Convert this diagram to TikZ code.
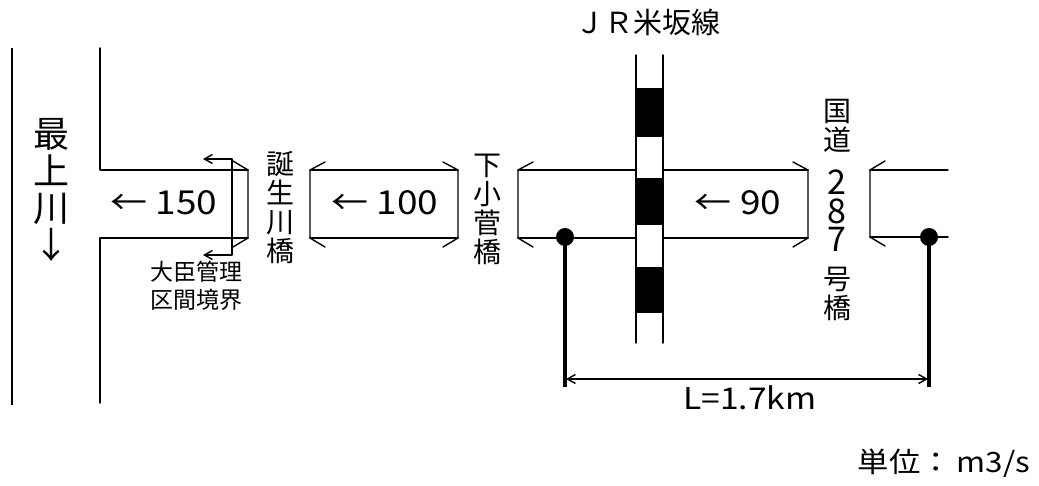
\documentclass[tikz,border=0pt]{standalone}
\usepackage{fontspec}
\setmainfont{Noto Sans CJK JP}
\newfontfamily\widefont[FakeStretch=1.12]{Noto Sans CJK JP}
\usetikzlibrary{arrows.meta}
\begin{document}
\begin{tikzpicture}[x=1pt,y=-1pt,
  >={Straight Barb[length=8pt,width=9pt]},
  ln/.style={line width=1.4pt, line cap=round, line join=round},
  lbl/.style={inner sep=0pt, align=center},
  big/.style={lbl, font=\widefont\fontsize{33}{36}\selectfont},
  vert/.style={lbl, font=\fontsize{28}{29}\selectfont},
  digit/.style={inner sep=0pt, anchor=base, text height=24pt, text depth=0pt, font=\fontsize{34}{36}\selectfont},
]
\useasboundingbox (0,0) rectangle (1039,486);
% Mogami river bank
\draw[line width=2.2pt] (12,48) -- (12,405);
% tributary channel
\draw[ln] (100,48) -- (100,170) -- (248,170);
\draw[ln] (100,403) -- (100,238) -- (248,238);
\draw[ln] (233,161) -- (248,170) -- (248,238) -- (233,247);
% boundary marker
\draw[ln, <->] (203,159) -- (232,159) -- (232,255) -- (203,255);
% box 2
\draw[ln] (325,162) -- (310,170) -- (310,238) -- (325,247);
\draw[ln] (310,170) -- (458,170);
\draw[ln] (310,238) -- (458,238);
\draw[ln] (443,162) -- (458,170) -- (458,238) -- (443,247);
% box 3
\draw[ln] (533,162) -- (518,170) -- (518,238) -- (533,247);
\draw[ln] (518,170) -- (808,170);
\draw[ln] (518,238) -- (808,238);
\draw[ln] (793,162) -- (808,170) -- (808,238) -- (793,247);
% box 4
\draw[ln] (885,161) -- (870,170) -- (870,237) -- (885,246);
\draw[ln] (870,170) -- (948,170);
\draw[ln] (870,237) -- (948,237);
% railway
\fill[white] (636,55) rectangle (663,343);
\fill[black] (636,88) rectangle (663,137);
\fill[black] (636,178) rectangle (663,225);
\fill[black] (636,267) rectangle (663,313);
\draw[ln] (636,55) -- (636,343);
\draw[ln] (663,55) -- (663,343);
% section markers
\fill (565,237) circle (9);
\fill (929,237) circle (9);
\draw[line width=3.5pt] (565,237) -- (565,387);
\draw[line width=3.5pt] (929,237) -- (929,387);
\coordinate (dl) at (566,379);
\coordinate (dr) at (928,379);
\draw[ln, <->] (dl) -- (dr);
% texts
\node[lbl, font=\fontsize{36}{37}\selectfont] (mogami) at (52,190) {最\\上\\川\\↓};
\node[big] (q150) at (164,203) {← 150};
\node[big] (q100) at (385,203) {← 100};
\node[big] (q90) at (738,203) {← 90};
\node[vert] (tanjo) at (280,208) {誕\\生\\川\\橋};
\node[vert] (shimo) at (487,209) {下\\小\\菅\\橋};
\node[lbl, font=\fontsize{23}{28}\selectfont] (daijin) at (196,286) {大臣管理\\区間境界};
\node[lbl, font=\fontsize{29}{30}\selectfont] (jr) at (648,22) {ＪＲ米坂線};
\node[vert] (k1) at (837,126) {国\\道};
\node[digit] (d2) at (837,195) {2};
\node[digit] (d8) at (837,223.5) {8};
\node[digit] (d7) at (837,252) {7};
\node[vert] (k3) at (837,294) {号\\橋};
\node[lbl, font=\widefont\fontsize{30}{32}\selectfont] (len) at (750,398) {L=1.7km};
\node[lbl, font=\widefont\fontsize{28}{30}\selectfont] (unit) at (944,463) {単位：\,m3/s};
\end{tikzpicture}
\end{document}
